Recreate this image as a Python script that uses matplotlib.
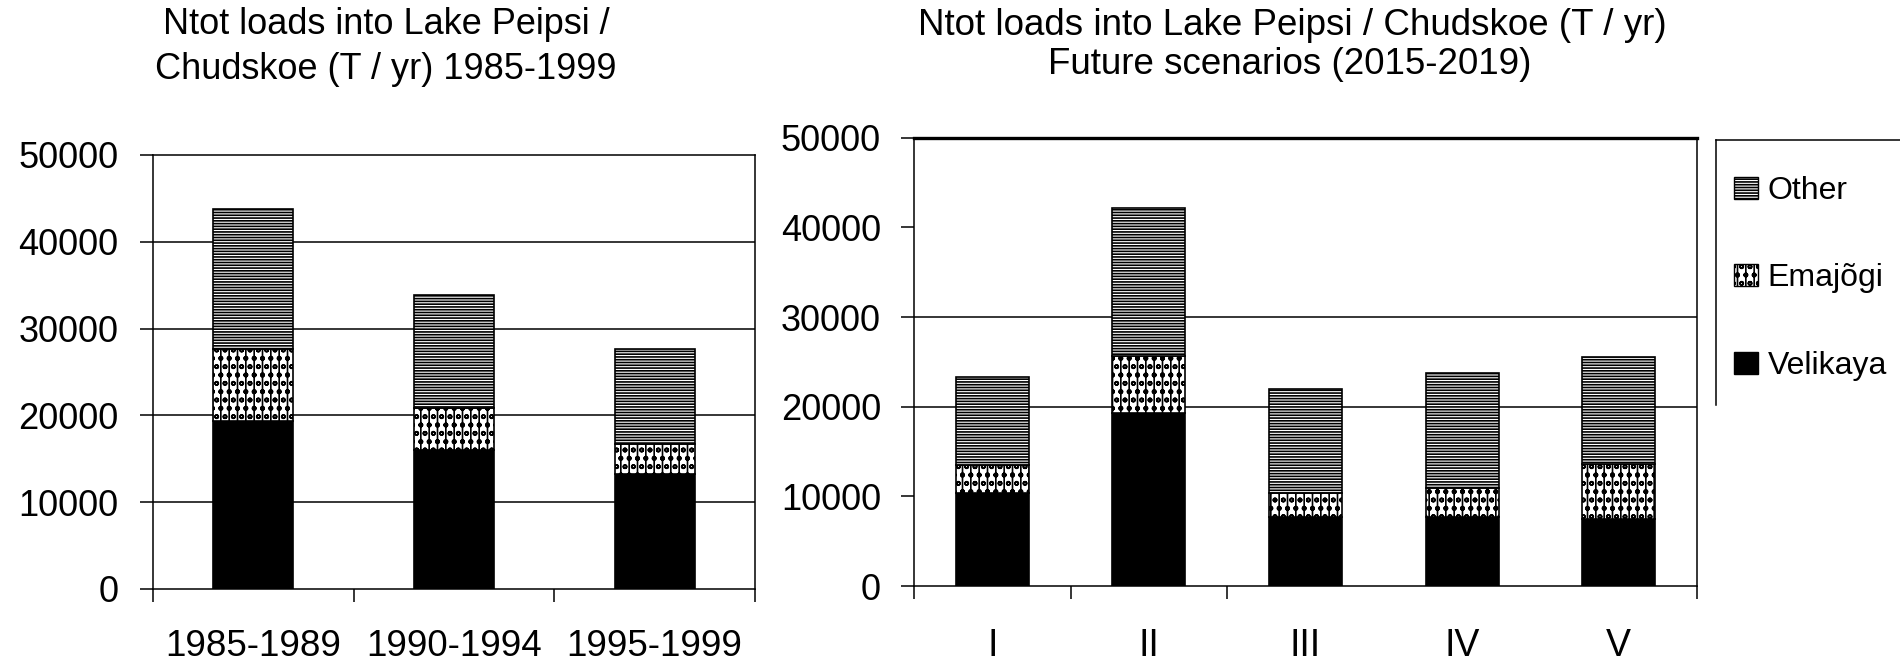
import matplotlib
matplotlib.use("Agg")
import matplotlib.pyplot as plt
from matplotlib.patches import Patch
from matplotlib.lines import Line2D
import numpy as np

# ---------------- data ----------------
hist_periods = ["1985-1989", "1990-1994", "1995-1999"]
hist_velikaya = [19400, 16000, 13200]
hist_emajogi = [8200, 4900, 3500]
hist_other = [16200, 13000, 11000]

scenarios = ["I", "II", "III", "IV", "V"]
scen_velikaya = [10400, 19300, 7700, 7700, 7500]
scen_emajogi = [3100, 6300, 2700, 3200, 6100]
scen_other = [9800, 16600, 11600, 12900, 11900]

series_names = ["Velikaya", "Emajõgi", "Other"]
left_title = ["Ntot loads into Lake Peipsi /", "Chudskoe (T / yr) 1985-1999"]
right_title = ["Ntot loads into Lake Peipsi / Chudskoe (T / yr)", "Future scenarios (2015-2019)"]
y_ticks = [0, 10000, 20000, 30000, 40000, 50000]
right_grid = [20000, 30000]

# ---------------- style ----------------
plt.rcParams["font.family"] = ["Liberation Sans", "DejaVu Sans"]
plt.rcParams["hatch.color"] = "black"
plt.rcParams["hatch.linewidth"] = 1.2

W, H = 1900, 663
fig = plt.figure(figsize=(W / 100, H / 100), dpi=100)

def fx(px):
    return px / W

def fy(py):
    return 1 - py / H

styles = [
    dict(color="black", edgecolor="black", hatch=None),
    dict(color="white", edgecolor="black", hatch="||oo"),
    dict(color="white", edgecolor="black", hatch="------"),
]

def draw(ax, cats, series, width, grid_vals, major_pos, ylab_pad, xlab_pad, top_lw, xsize):
    x = np.arange(len(cats))
    bottom = np.zeros(len(cats))
    for vals, st in zip(series, styles):
        ax.bar(x, vals, width, bottom=bottom, color=st["color"], edgecolor=st["edgecolor"],
               hatch=st["hatch"], linewidth=1.2, zorder=3)
        bottom += np.array(vals)
    ax.set_ylim(0, 50000)
    ax.set_xlim(-0.5, len(cats) - 0.5)
    for g in grid_vals:
        ax.axhline(g, color="black", lw=1.1, zorder=1)
    ax.set_yticks(y_ticks)
    ax.set_yticklabels([str(v) for v in y_ticks])
    ax.set_xticks(major_pos)
    ax.set_xticklabels([""] * len(major_pos))
    ax.set_xticks(x, minor=True)
    ax.set_xticklabels(cats, minor=True)
    ax.tick_params(axis="y", direction="out", length=9.4, width=1.1, pad=ylab_pad,
                   labelsize=26, colors="black")
    ax.tick_params(axis="x", which="major", direction="out", length=9.4, width=1.1)
    ax.tick_params(axis="x", which="minor", length=0, pad=xlab_pad, labelsize=xsize)
    for s in ["left", "right", "bottom"]:
        ax.spines[s].set_linewidth(1.1)
    ax.spines["top"].set_linewidth(top_lw)
    ax.patch.set_alpha(0)

# left chart
ax1 = fig.add_axes([fx(153), fy(589), fx(755 - 153), (589 - 155) / H])
draw(ax1, hist_periods, [hist_velikaya, hist_emajogi, hist_other], 0.40,
     [10000, 20000, 30000, 40000], [-0.5, 0.5, 1.5, 2.5], 15.5, 29, 1.1, 26.5)

# right chart
ax2 = fig.add_axes([fx(914), fy(586), fx(1697 - 914), (586 - 137.7) / H])
draw(ax2, scenarios, [scen_velikaya, scen_emajogi, scen_other], 0.466,
     right_grid, [-0.5, 0.5, 1.5, 4.5], 14.4, 30, 2.4, 27)

# titles
fig.text(fx(386), fy(34), left_title[0], ha="center", va="baseline", fontsize=26)
fig.text(fx(386), fy(79), left_title[1], ha="center", va="baseline", fontsize=26)
fig.text(fx(1292), fy(35), right_title[0], ha="center", va="baseline", fontsize=26.5)
fig.text(fx(1290), fy(74), right_title[1], ha="center", va="baseline", fontsize=26.5)

# legend
handles = [Patch(facecolor=styles[i]["color"], edgecolor="black", hatch=styles[i]["hatch"], linewidth=1.0)
           for i in (2, 1, 0)]
labels = [series_names[i] for i in (2, 1, 0)]
fig.legend(handles, labels, loc="upper left", bbox_to_anchor=(fx(1734), fy(176)),
           frameon=False, fontsize=23, handlelength=0.75, handleheight=0.7,
           handletextpad=0.3, labelspacing=1.8, borderpad=0, borderaxespad=0)
fig.add_artist(Line2D([fx(1716), fx(1900)], [fy(140), fy(140)], color="black", lw=1.1))
fig.add_artist(Line2D([fx(1716), fx(1716)], [fy(140), fy(405)], color="black", lw=1.1))

fig.savefig("out.png", dpi=100, facecolor="white")
